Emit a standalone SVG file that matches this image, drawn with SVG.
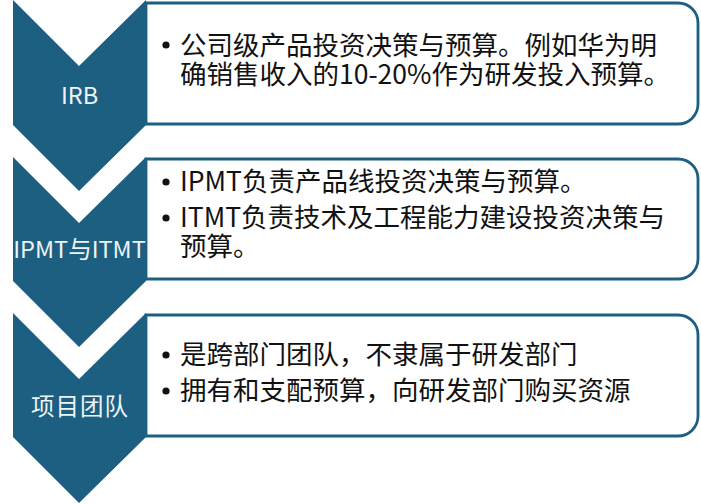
<svg xmlns="http://www.w3.org/2000/svg" width="701" height="504" viewBox="0 0 701 504">
<style>
.chev{fill:#1c5f80;}
.box{fill:#ffffff;stroke:#1c5f80;stroke-width:2.8;}
.lbl{font-family:"Noto Sans CJK SC","Noto Sans",sans-serif;font-size:23.5px;fill:#eef4f7;text-anchor:middle;}
.txt{font-family:"Noto Sans CJK SC","Noto Sans",sans-serif;font-size:26.5px;fill:#111111;}
.dot{fill:#111111;}
</style>
<rect width="701" height="504" fill="#ffffff"/>
<g id="box-irb">
<path class="box" d="M146,3 H678 A20,20 0 0 1 698,23 V104 A20,20 0 0 1 678,124 H146 Z"/>
<circle class="dot" cx="166" cy="45" r="3.6"/>
<text class="txt"><tspan x="180" y="55">公司级产品投资决策与预算。例如华为明</tspan><tspan x="180" y="84">确销售收入的10-20%作为研发投入预算。</tspan></text>
</g>
<g id="box-ipmt">
<path class="box" d="M146,159 H678 A20,20 0 0 1 698,179 V259 A20,20 0 0 1 678,279 H146 Z"/>
<circle class="dot" cx="166" cy="182" r="3.6"/>
<text class="txt" x="180" y="191">IPMT负责产品线投资决策与预算。</text>
<circle class="dot" cx="166" cy="218" r="3.6"/>
<text class="txt"><tspan x="180" y="227">ITMT负责技术及工程能力建设投资决策与</tspan><tspan x="180" y="256">预算。</tspan></text>
</g>
<g id="box-team">
<path class="box" d="M146,315 H678 A20,20 0 0 1 698,335 V416 A20,20 0 0 1 678,436 H146 Z"/>
<circle class="dot" cx="166" cy="355" r="3.6"/>
<text class="txt" x="180" y="364">是跨部门团队，不隶属于研发部门</text>
<circle class="dot" cx="166" cy="391" r="3.6"/>
<text class="txt" x="180" y="400">拥有和支配预算，向研发部门购买资源</text>
</g>
<g id="chev-irb">
<path class="chev" d="M13,0 L79,66 L146,0 V125 L79,191 L13,125 Z"/>
<text class="lbl" x="79.5" y="104">IRB</text>
</g>
<g id="chev-ipmt">
<path class="chev" d="M13,157 L79,223 L146,157 V281 L79,347 L13,281 Z"/>
<text class="lbl" x="79.5" y="258">IPMT与ITMT</text>
</g>
<g id="chev-team">
<path class="chev" d="M13,313 L79,379 L146,313 V437 L79,503 L13,437 Z"/>
<text class="lbl" x="80" y="415" letter-spacing="1">项目团队</text>
</g>
<g id="connectors"></g>
</svg>
